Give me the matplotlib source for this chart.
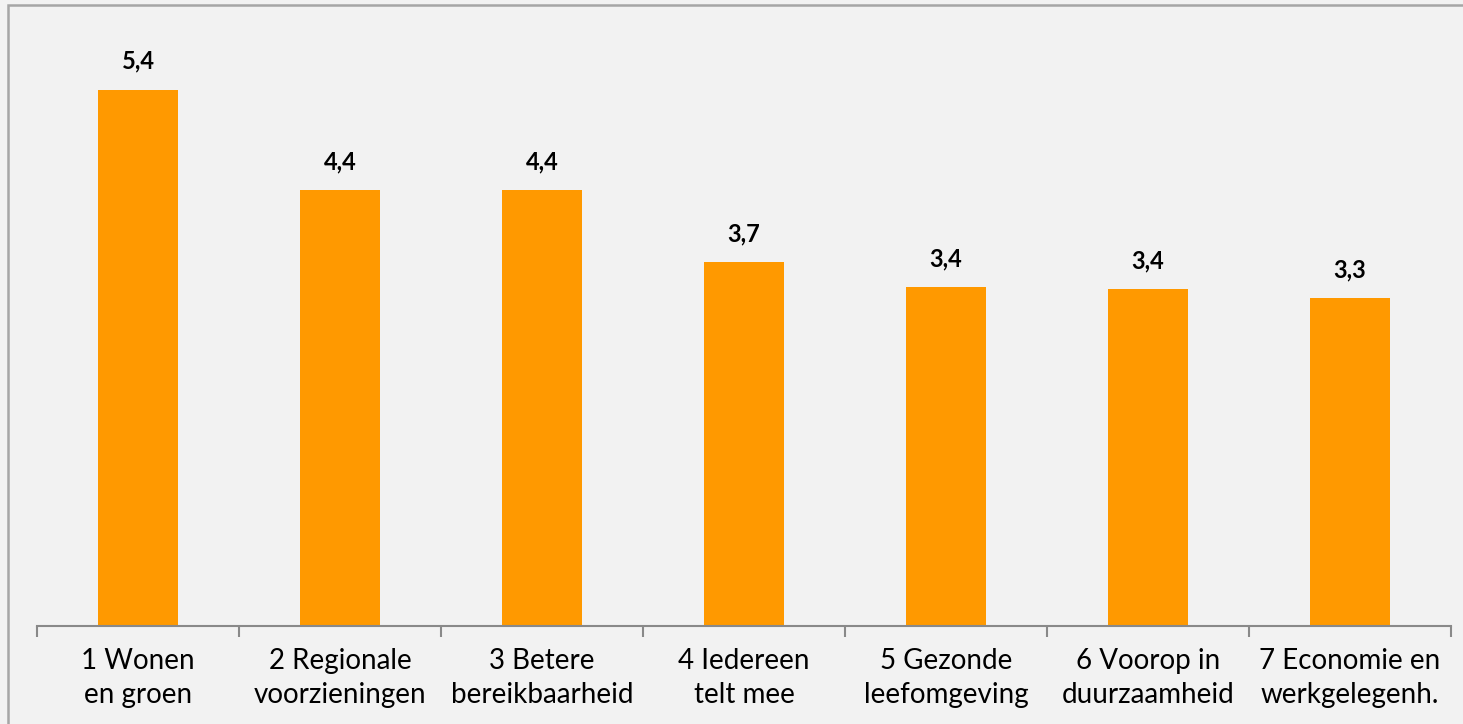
import matplotlib
matplotlib.use("Agg")
import matplotlib.pyplot as plt
from matplotlib.patches import Rectangle

# waarden zoals
categories = [
    "1 Wonen\nen groen",
    "2 Regionale\nvoorzieningen",
    "3 Betere\nbereikbaarheid",
    "4 Iedereen\ntelt mee",
    "5 Gezonde\nleefomgeving",
    "6 Voorop in\nduurzaamheid",
    "7 Economie en\nwerkgelegenh.",
]
scores = [5.4, 4.39, 4.39, 3.66, 3.41, 3.39, 3.30]

BG = "#f2f2f2"
BAR = "#ff9900"
GRID = "#898989"

plt.rcParams["font.family"] = ["Lato", "DejaVu Sans"]

W, H = 1463, 724
fig = plt.figure(figsize=(W / 100, H / 100), dpi=100, facecolor=BG)
ax = fig.add_axes([37 / W, (H - 626) / H, 1414 / W, 596 / H])
ax.set_facecolor(BG)

x = list(range(len(categories)))
bars = ax.bar(x, scores, width=0.4, color=BAR, zorder=2)

for b, v in zip(bars, scores):
    ax.text(b.get_x() + b.get_width() / 2, v + 0.17, f"{v:.1f}".replace(".", ","),
            ha="center", va="bottom", fontsize=17, fontweight="bold", color="black")

ax.set_xlim(-0.5, len(categories) - 0.5)
ax.set_ylim(0, 6)
ax.set_yticks([])

for s in ("top", "right", "left"):
    ax.spines[s].set_visible(False)
ax.spines["bottom"].set_color(GRID)
ax.spines["bottom"].set_linewidth(1.5)

# streepjes tussen de categorieën, labels in het midden
ax.set_xticks([i - 0.5 for i in range(len(categories) + 1)])
ax.set_xticklabels([])
ax.tick_params(axis="x", which="major", length=8, width=1.5, color=GRID, direction="out")
ax.set_xticks(x, minor=True)
ax.set_xticklabels(categories, minor=True, fontsize=20, linespacing=1.35)
ax.tick_params(axis="x", which="minor", length=0, pad=16)

# kader rond de grafiek
fig.add_artist(Rectangle((8 / W, -0.5), 2, 0.5 + (H - 5) / H, transform=fig.transFigure,
                         fill=False, edgecolor="#a6a6a6", linewidth=1.8, clip_on=False))

fig.savefig("out.png", dpi=100, facecolor=BG)
